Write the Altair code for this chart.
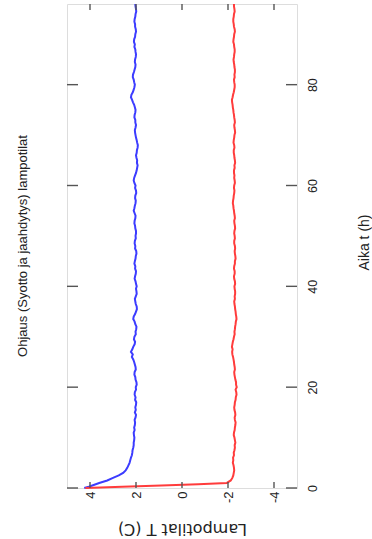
import altair as alt
import pandas as pd

# Simulation time (hours): fine steps during the start-up, then every half hour
time_h = [0, 0.25, 0.5, 0.75, 1, 1.5, 2, 2.5, 3, 3.5,
          4, 4.5,
          5, 5.5, 6, 6.5, 7, 7.5, 8, 8.5, 9, 9.5,
          10, 10.5, 11, 11.5, 12, 12.5, 13, 13.5, 14, 14.5,
          15, 15.5, 16, 16.5, 17, 17.5, 18, 18.5, 19, 19.5,
          20, 20.5, 21, 21.5, 22, 22.5, 23, 23.5, 24, 24.5,
          25, 25.5, 26, 26.5, 27, 27.5, 28, 28.5, 29, 29.5,
          30, 30.5, 31, 31.5, 32, 32.5, 33, 33.5, 34, 34.5,
          35, 35.5, 36, 36.5, 37, 37.5, 38, 38.5, 39, 39.5,
          40, 40.5, 41, 41.5, 42, 42.5, 43, 43.5, 44, 44.5,
          45, 45.5, 46, 46.5, 47, 47.5, 48, 48.5, 49, 49.5,
          50, 50.5, 51, 51.5, 52, 52.5, 53, 53.5, 54, 54.5,
          55, 55.5, 56, 56.5, 57, 57.5, 58, 58.5, 59, 59.5,
          60, 60.5, 61, 61.5, 62, 62.5, 63, 63.5, 64, 64.5,
          65, 65.5, 66, 66.5, 67, 67.5, 68, 68.5, 69, 69.5,
          70, 70.5, 71, 71.5, 72, 72.5, 73, 73.5, 74, 74.5,
          75, 75.5, 76, 76.5, 77, 77.5, 78, 78.5, 79, 79.5,
          80, 80.5, 81, 81.5, 82, 82.5, 83, 83.5, 84, 84.5,
          85, 85.5, 86, 86.5, 87, 87.5, 88, 88.5, 89, 89.5,
          90, 90.5, 91, 91.5, 92, 92.5, 93, 93.5, 94, 94.5,
          95, 95.5, 96]

# supply (syotto) temperature, deg C
supply_T = [4.25, 4.05, 3.90, 3.75, 3.60, 3.25, 3.00, 2.75, 2.56, 2.45,
            2.38, 2.33,
            2.28, 2.25, 2.22, 2.18, 2.16, 2.15, 2.12, 2.10, 2.10, 2.08,
            2.07, 2.09, 2.10, 2.06, 2.08, 2.05, 2.04, 2.06, 2.02, 2.00,
            2.05, 2.01, 2.03, 2.00, 1.99, 2.04, 2.02, 2.06, 2.05, 2.00,
            2.01, 1.97, 1.98, 2.02, 2.03, 2.07, 2.06, 2.01, 2.02, 2.05,
            2.08, 2.12, 2.18, 2.14, 2.22, 2.16, 2.12, 2.06, 2.04, 2.09,
            2.07, 2.01, 2.02, 1.99, 1.98, 2.03, 2.06, 2.12, 2.10, 2.04,
            2.00, 1.96, 1.97, 2.01, 2.03, 2.05, 2.01, 1.97, 1.98, 2.00,
            1.97, 2.00, 2.02, 2.06, 2.04, 2.01, 2.00, 2.04, 2.03, 2.07,
            2.05, 2.02, 2.01, 1.98, 1.99, 2.04, 2.03, 2.06, 2.05, 2.01,
            2.02, 2.00, 2.00, 2.03, 2.04, 2.07, 2.06, 2.03, 2.02, 2.06,
            2.10, 2.07, 2.05, 2.02, 2.01, 2.04, 2.03, 1.99, 2.00, 2.04,
            2.02, 2.07, 2.10, 2.08, 2.04, 2.00, 1.97, 1.95, 1.93, 1.96,
            1.95, 1.98, 2.00, 1.97, 1.96, 1.93, 1.92, 1.95, 1.97, 2.00,
            2.02, 2.04, 2.05, 2.02, 2.00, 2.03, 2.03, 2.07, 2.06, 2.03,
            2.02, 2.05, 2.08, 2.13, 2.17, 2.22, 2.20, 2.14, 2.10, 2.07,
            2.05, 2.08, 2.10, 2.14, 2.13, 2.09, 2.06, 2.03, 2.02, 2.05,
            2.04, 2.01, 2.00, 2.02, 2.03, 2.07, 2.05, 2.09, 2.08, 2.04,
            2.03, 2.00, 2.01, 2.04, 2.04, 2.07, 2.06, 2.03, 2.02, 1.99,
            2.00, 2.02, 2.03]

# cooling (jaahdytys) temperature, deg C
cooling_T = [4.20, 2.60, 0.90, -0.70, -1.95, -2.12, -2.19, -2.23, -2.25, -2.27,
             -2.26, -2.24,
             -2.21, -2.23, -2.22, -2.26, -2.25, -2.28, -2.30, -2.29, -2.32, -2.30,
             -2.28, -2.25, -2.26, -2.29, -2.30, -2.32, -2.33, -2.30, -2.29, -2.32,
             -2.31, -2.28, -2.27, -2.29, -2.30, -2.33, -2.34, -2.37, -2.36, -2.33,
             -2.38, -2.35, -2.35, -2.32, -2.30, -2.28, -2.27, -2.30, -2.29, -2.27,
             -2.26, -2.24, -2.22, -2.19, -2.18, -2.20, -2.17, -2.19, -2.21, -2.24,
             -2.26, -2.29, -2.28, -2.30, -2.31, -2.33, -2.34, -2.37, -2.36, -2.34,
             -2.33, -2.31, -2.30, -2.28, -2.27, -2.30, -2.29, -2.31, -2.31, -2.29,
             -2.28, -2.31, -2.30, -2.27, -2.26, -2.29, -2.29, -2.26, -2.27, -2.30,
             -2.30, -2.33, -2.32, -2.30, -2.29, -2.31, -2.30, -2.27, -2.27, -2.30,
             -2.29, -2.27, -2.28, -2.31, -2.30, -2.28, -2.27, -2.30, -2.29, -2.27,
             -2.26, -2.24, -2.23, -2.21, -2.22, -2.24, -2.25, -2.27, -2.28, -2.26,
             -2.27, -2.30, -2.29, -2.27, -2.28, -2.26, -2.26, -2.29, -2.28, -2.31,
             -2.30, -2.28, -2.27, -2.25, -2.25, -2.28, -2.27, -2.24, -2.25, -2.27,
             -2.28, -2.31, -2.30, -2.28, -2.27, -2.30, -2.29, -2.27, -2.26, -2.24,
             -2.23, -2.21, -2.20, -2.18, -2.17, -2.20, -2.22, -2.25, -2.27, -2.29,
             -2.29, -2.27, -2.26, -2.29, -2.28, -2.30, -2.30, -2.28, -2.27, -2.25,
             -2.24, -2.26, -2.27, -2.29, -2.29, -2.27, -2.26, -2.23, -2.24, -2.26,
             -2.27, -2.30, -2.29, -2.26, -2.25, -2.23, -2.23, -2.25, -2.26, -2.29,
             -2.28, -2.26, -2.26]

series_names = ["Syotto", "Jaahdytys"]
series_colors = ["#3c3cff", "#ff3c3c"]

temp_ticks = [-4, -2, 0, 2, 4]
time_ticks = [0, 20, 40, 60, 80]

W, H = 230, 484
FONT = "Liberation Sans, Arial, sans-serif"
INK = "#222222"
FRAME = "#808080"

df = pd.concat([
    pd.DataFrame({"t": time_h, "T": supply_T, "sarja": series_names[0]}),
    pd.DataFrame({"t": time_h, "T": cooling_T, "sarja": series_names[1]}),
])

temp_scale = alt.Scale(domain=[-5, 5], reverse=True, nice=False, zero=False)
time_scale = alt.Scale(domain=[0, 96], nice=False, zero=False)

# temperature axis along the bottom, text turned a quarter turn
temp_axis = alt.Axis(
    orient="bottom", values=temp_ticks, grid=False, domain=False,
    ticks=False, tickSize=0, labelAngle=270, labelAlign="right",
    labelBaseline="middle", labelPadding=3, labelFont=FONT,
    labelFontSize=13, labelColor=INK, labelFlush=False,
    labelExpr="replace(datum.label, '\u2212', '-')",
    title="Lampotilat T (C)", titleFont="DejaVu Sans", titleFontSize=16,
    titleFontWeight="normal", titleColor=INK, titleAngle=180,
    titleX=W / 2, titleY=40, titleAlign="center", titleBaseline="middle",
)

# time axis on the right side
time_axis = alt.Axis(
    orient="right", values=time_ticks, grid=False, domain=False,
    ticks=False, tickSize=0, labelAngle=270, labelAlign="center",
    labelBaseline="middle", labelPadding=15, labelFont=FONT,
    labelFontSize=12.5, labelColor=INK, labelFlush=False,
    title="Aika t (h)", titleFont=FONT, titleFontSize=14,
    titleFontWeight="normal", titleColor=INK, titleAngle=270,
    titleX=67, titleY=238, titleAlign="center", titleBaseline="middle",
)

x_enc = alt.X("T:Q", scale=temp_scale, axis=temp_axis)
y_enc = alt.Y("t:Q", scale=time_scale, axis=time_axis)

lines = alt.Chart(df).mark_line(strokeWidth=2, interpolate="linear").encode(
    x=x_enc,
    y=y_enc,
    order=alt.Order("t:Q"),
    color=alt.Color("sarja:N", scale=alt.Scale(domain=series_names, range=series_colors), legend=None),
)

tick_style = dict(color="#555555", strokeWidth=1.4)
temp_tick_df = pd.DataFrame({"T": temp_ticks})
time_tick_df = pd.DataFrame({"t": time_ticks})

top_ticks = alt.Chart(temp_tick_df).mark_rule(**tick_style).encode(
    x=x_enc, y=alt.value(0), y2=alt.value(6))
bottom_ticks = alt.Chart(temp_tick_df).mark_rule(**tick_style).encode(
    x=x_enc, y=alt.value(H - 6), y2=alt.value(H))
left_ticks = alt.Chart(time_tick_df).mark_rule(**tick_style).encode(
    y=y_enc, x=alt.value(0), x2=alt.value(11))
right_ticks = alt.Chart(time_tick_df).mark_rule(**tick_style).encode(
    y=y_enc, x=alt.value(W - 11), x2=alt.value(W))

chart = alt.layer(lines, top_ticks, bottom_ticks, left_ticks, right_ticks).properties(
    width=W,
    height=H,
    title=alt.TitleParams(
        text="Ohjaus (Syotto ja jaahdytys) lampotilat", orient="left",
        anchor="middle", angle=270, baseline="middle", offset=30,
        font=FONT, fontSize=13, fontWeight="normal", color=INK,
    ),
    padding={"left": 67, "top": 4, "right": 75, "bottom": 51},
    autosize=alt.AutoSizeParams(type="none"),
).configure_view(
    stroke=FRAME, strokeWidth=1.6
).configure(background="white")

chart.save("out.html", embed_options={"renderer": "svg", "actions": False})
